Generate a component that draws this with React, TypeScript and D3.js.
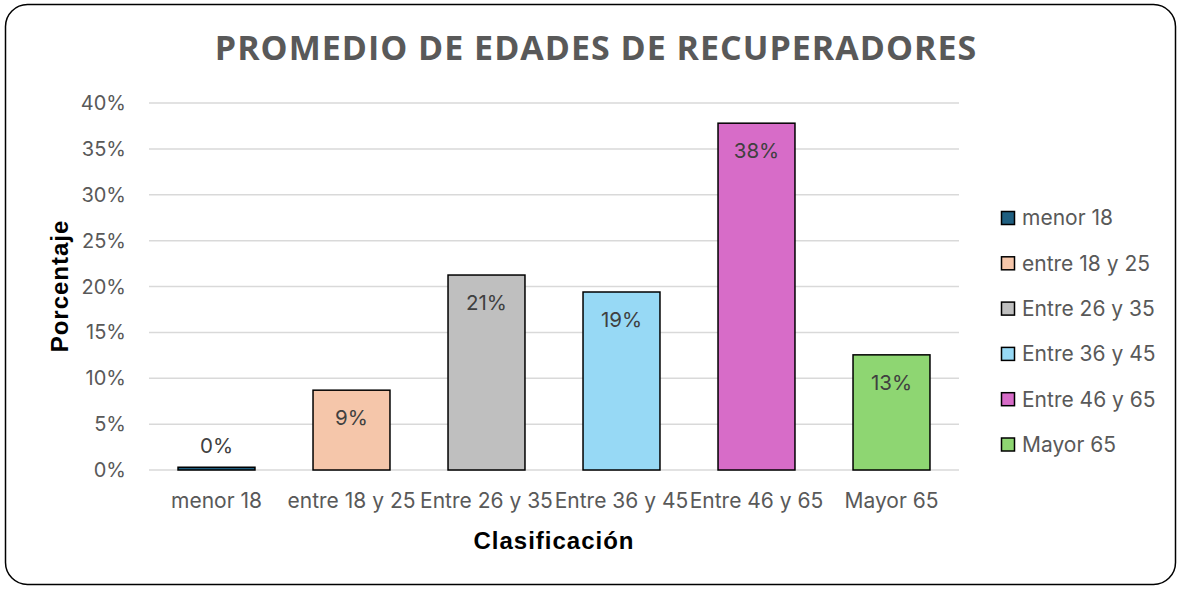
import React, { useEffect, useRef } from 'react'
import * as d3 from 'd3'

const categories = ['menor 18', 'entre 18 y 25', 'Entre 26 y 35', 'Entre 36 y 45', 'Entre 46 y 65', 'Mayor 65']
const values = [0.003, 0.087, 0.2125, 0.194, 0.378, 0.1255]
const labels = ['0%', '9%', '21%', '19%', '38%', '13%']
const colors = ['#1F5F80', '#F5C6AA', '#BFBFBF', '#97D9F5', '#D76CC8', '#8ED672']
const yTicks = [0, 0.05, 0.1, 0.15, 0.2, 0.25, 0.3, 0.35, 0.4]

const W = 1181
const H = 590
const font = 'Inter, "Liberation Sans", sans-serif'

export default function App() {
    const ref = useRef<SVGSVGElement>(null)

    useEffect(() => {
        const svg = d3.select(ref.current)
        svg.selectAll('*').remove()

        const x = d3.scaleBand().domain(categories).range([149, 959]).paddingInner(0.43).paddingOuter(0.215)
        const y = d3.scaleLinear().domain([0, 0.4]).range([470, 103])

        // frame
        svg.append('rect')
            .attr('x', 5.5).attr('y', 4.5)
            .attr('width', 1170).attr('height', 580)
            .attr('rx', 22)
            .attr('fill', '#fff')
            .attr('stroke', '#000')
            .attr('stroke-width', 1.5)

        svg.append('text')
            .attr('x', 596).attr('y', 60)
            .attr('text-anchor', 'middle')
            .attr('font-family', '"Open Sans", sans-serif')
            .attr('font-weight', 700)
            .attr('font-size', 34)
            .attr('letter-spacing', 1)
            .attr('fill', '#595959')
            .text('PROMEDIO DE EDADES DE RECUPERADORES')

        // grid + y ticks
        const grid = svg.append('g')
        grid.selectAll('line')
            .data(yTicks)
            .enter()
            .append('line')
            .attr('x1', 149).attr('x2', 959)
            .attr('y1', (d) => y(d)).attr('y2', (d) => y(d))
            .attr('stroke', '#D9D9D9')
            .attr('stroke-width', 1.5)

        grid.selectAll('text')
            .data(yTicks)
            .enter()
            .append('text')
            .attr('x', 126)
            .attr('y', (d) => y(d))
            .attr('dy', '0.35em')
            .attr('text-anchor', 'end')
            .attr('font-family', font)
            .attr('font-size', 20)
            .attr('fill', '#595959')
            .text((d) => d3.format('.0%')(d))

        // bars
        const bar = svg.append('g')
            .selectAll('g')
            .data(values)
            .enter()
            .append('g')

        bar.append('rect')
            .attr('x', (d, i) => x(categories[i]) as number)
            .attr('width', x.bandwidth())
            .attr('y', (d) => y(d))
            .attr('height', (d) => y(0) - y(d))
            .attr('fill', (d, i) => colors[i])
            .attr('stroke', '#000')
            .attr('stroke-width', 1.5)

        bar.append('text')
            .attr('x', (d, i) => (x(categories[i]) as number) + x.bandwidth() / 2)
            .attr('y', (d) => y(0) - y(d) < 30 ? y(d) - 21 : y(d) + 28)
            .attr('dy', '0.35em')
            .attr('text-anchor', 'middle')
            .attr('font-family', font)
            .attr('font-size', 20.5)
            .attr('fill', '#404040')
            .text((d, i) => labels[i])

        // category labels
        svg.append('g')
            .selectAll('text')
            .data(categories)
            .enter()
            .append('text')
            .attr('x', (d) => (x(d) as number) + x.bandwidth() / 2)
            .attr('y', 501)
            .attr('dy', '0.35em')
            .attr('text-anchor', 'middle')
            .attr('font-family', font)
            .attr('font-size', 21)
            .attr('fill', '#595959')
            .text((d) => d)

        // axis titles
        svg.append('text')
            .attr('transform', 'translate(60,286) rotate(-90)')
            .attr('dy', '0.35em')
            .attr('text-anchor', 'middle')
            .attr('font-family', '"Liberation Sans", Arial, sans-serif')
            .attr('font-weight', 700)
            .attr('font-size', 24)
            .attr('letter-spacing', 1)
            .attr('fill', '#000')
            .text('Porcentaje')

        svg.append('text')
            .attr('x', 554).attr('y', 541)
            .attr('dy', '0.35em')
            .attr('text-anchor', 'middle')
            .attr('font-family', '"Liberation Sans", Arial, sans-serif')
            .attr('font-weight', 700)
            .attr('font-size', 24)
            .attr('letter-spacing', 1)
            .attr('fill', '#000')
            .text('Clasificación')

        // legend
        const legend = svg.append('g')
            .selectAll('g')
            .data(categories)
            .enter()
            .append('g')
            .attr('transform', (d, i) => 'translate(1001,' + (218 + i * 45.3) + ')')

        legend.append('rect')
            .attr('x', 0.5).attr('y', -6.5)
            .attr('width', 13).attr('height', 13)
            .attr('fill', (d, i) => colors[i])
            .attr('stroke', '#000')
            .attr('stroke-width', 1.5)

        legend.append('text')
            .attr('x', 21)
            .attr('dy', '0.35em')
            .attr('font-family', font)
            .attr('font-size', 21)
            .attr('fill', '#595959')
            .text((d) => d)
    }, [])

    return (
        <svg ref={ref} width={W} height={H} style={{ position: 'absolute', left: 0, top: 0 }} />
    )
}
